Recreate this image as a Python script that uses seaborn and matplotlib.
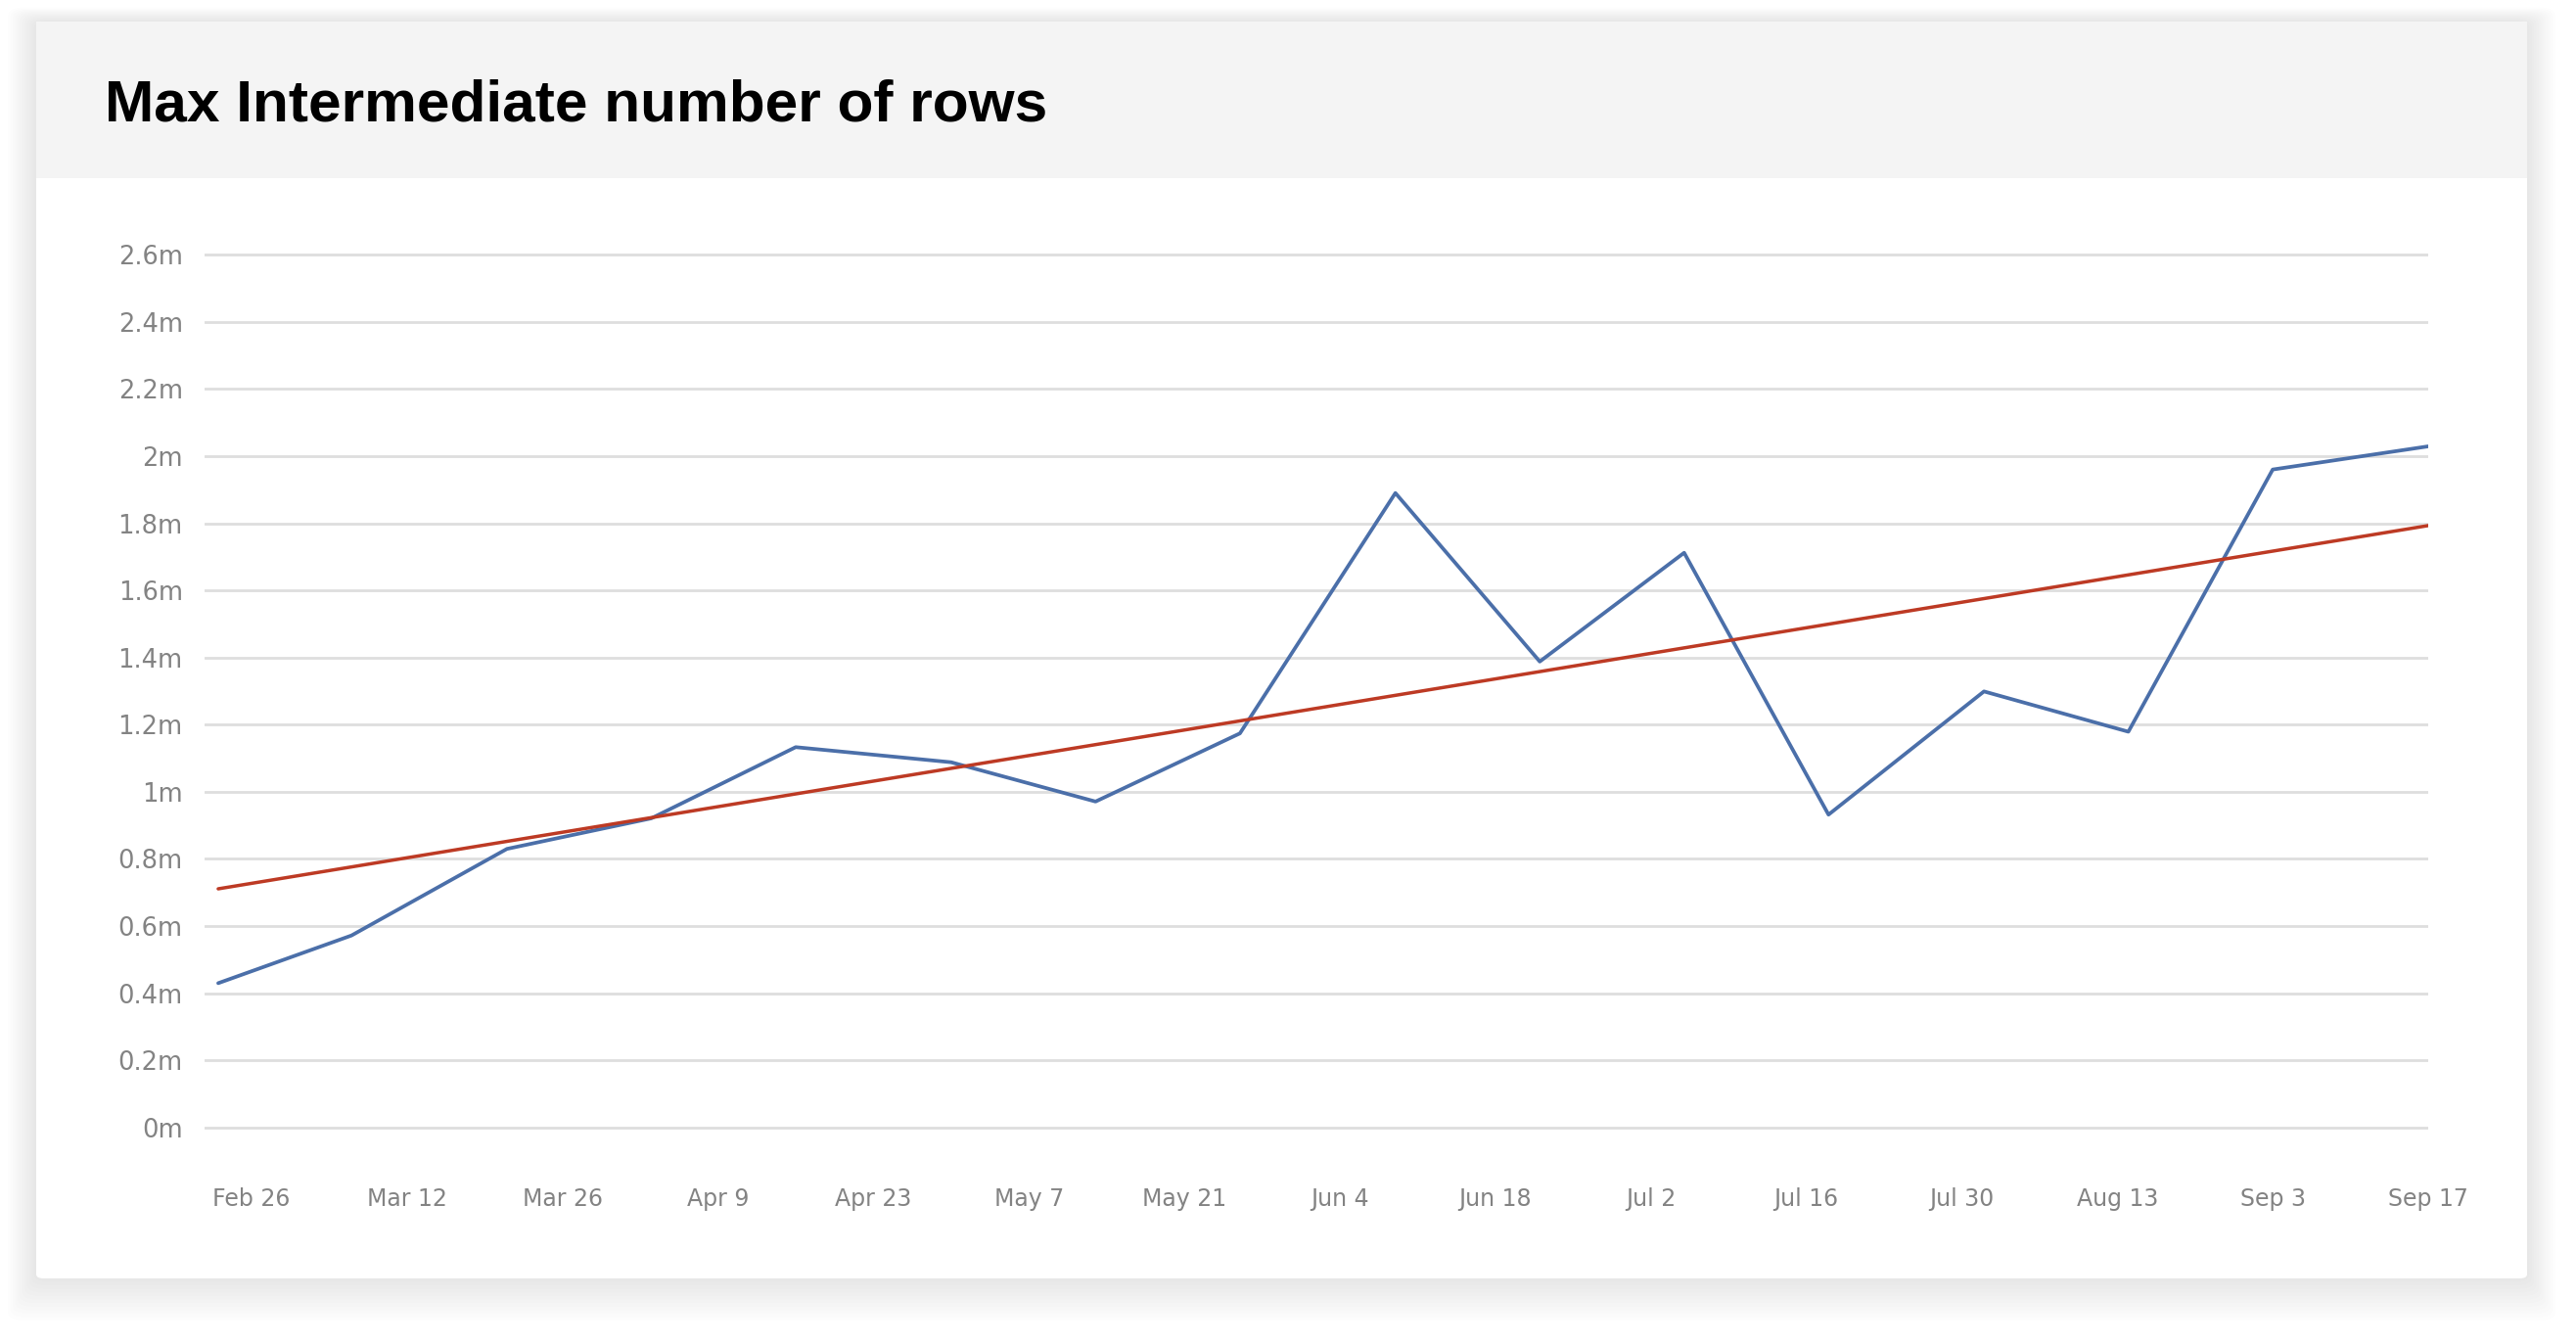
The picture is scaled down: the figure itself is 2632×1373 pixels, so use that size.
import numpy as np
import pandas as pd
import matplotlib
matplotlib.use("Agg")
import matplotlib.pyplot as plt
import seaborn as sns
from matplotlib.patches import FancyBboxPatch
from matplotlib.ticker import FuncFormatter

# --- data ---
# x positions are days counted from the "Feb 26" tick
tick_labels = ['Feb 26', 'Mar 12', 'Mar 26', 'Apr 9', 'Apr 23', 'May 7', 'May 21', 'Jun 4',
               'Jun 18', 'Jul 2', 'Jul 16', 'Jul 30', 'Aug 13', 'Sep 3', 'Sep 17']
tick_days = [0, 14, 28, 42, 56, 70, 84, 98, 112, 126, 140, 154, 168, 182, 196]

point_days = [-3, 9, 23, 36, 49, 63, 76, 89, 103, 116, 129, 142, 156, 169, 182, 196]
max_rows_m = [0.43, 0.572, 0.83, 0.921, 1.133, 1.088, 0.971, 1.174,
              1.89, 1.388, 1.712, 0.932, 1.299, 1.179, 1.96, 2.029]

# linear trend line, end points
trend_days = [-3, 196]
trend_m = [0.711, 1.793]

y_ticks = [0, 0.2, 0.4, 0.6, 0.8, 1.0, 1.2, 1.4, 1.6, 1.8, 2.0, 2.2, 2.4, 2.6]

BLUE = '#4b6fa9'
RED = '#bd3a24'
GRID = '#dedede'
LABEL = '#838383'

sns.set_theme(style="white")
plt.rcParams['font.family'] = ['DejaVu Sans']

W, H = 2632, 1373
fig = plt.figure(figsize=(W / 100, H / 100), dpi=100)
fig.patch.set_facecolor('white')

# card shadow + card + header band (pixel coords converted to figure fraction)
def px_box(x0, y0, x1, y1):
    return x0 / W, 1 - y1 / H, (x1 - x0) / W, (y1 - y0) / H

for grow in range(36, 0, -3):
    x, y, w, h = px_box(37 - grow * 0.8, 22 - grow * 0.4, 2582 + grow * 0.8, 1306 + grow * 1.2)
    fig.patches.append(FancyBboxPatch((x, y), w, h, boxstyle="round,pad=0,rounding_size=0.006",
                                      transform=fig.transFigure, facecolor='#000000',
                                      edgecolor='none', alpha=0.006, zorder=0))
x, y, w, h = px_box(37, 22, 2582, 1306)
fig.patches.append(FancyBboxPatch((x, y), w, h, boxstyle="round,pad=0,rounding_size=0.003",
                                  transform=fig.transFigure, facecolor='white',
                                  edgecolor='none', zorder=1))
x, y, w, h = px_box(37, 22, 2582, 182)
fig.patches.append(FancyBboxPatch((x, y), w, h, boxstyle="square,pad=0",
                                  transform=fig.transFigure, facecolor='#f4f4f4',
                                  edgecolor='none', zorder=2))

fig.text(107 / W, 1 - 123 / H, 'Max Intermediate number of rows', fontsize=43.5,
         fontweight='bold', family=['Liberation Sans', 'DejaVu Sans'], color='#000000',
         ha='left', va='baseline', zorder=3)

# plot area
ax = fig.add_axes([209 / W, 1 - 1169 / H, 2272 / W, 926 / H])
ax.set_facecolor('none')
ax.set_zorder(3)

df = pd.DataFrame({'day': point_days, 'rows': max_rows_m})
trend = pd.DataFrame({'day': trend_days, 'rows': trend_m})

sns.lineplot(data=df, x='day', y='rows', color=BLUE, linewidth=2.7, ax=ax, zorder=3)
sns.lineplot(data=trend, x='day', y='rows', color=RED, linewidth=2.5, ax=ax, zorder=4)

ax.set_xlim(-4.23, 195.95)
ax.set_ylim(-0.05, 2.65)
ax.set_yticks(y_ticks)
ax.yaxis.set_major_formatter(FuncFormatter(lambda v, p: f"{v:g}m"))
ax.set_xticks(tick_days)
ax.set_xticklabels(tick_labels)
ax.grid(axis='y', color=GRID, linewidth=2.0, zorder=1)
ax.grid(axis='x', visible=False)
ax.set_axisbelow(True)
for s in ax.spines.values():
    s.set_visible(False)
ax.tick_params(axis='y', length=0, pad=16, labelsize=18.5, labelcolor=LABEL)
ax.tick_params(axis='x', length=0, pad=32, labelsize=17, labelcolor=LABEL)
ax.set_xlabel('')
ax.set_ylabel('')

fig.savefig('out.png', dpi=100, facecolor='white')
